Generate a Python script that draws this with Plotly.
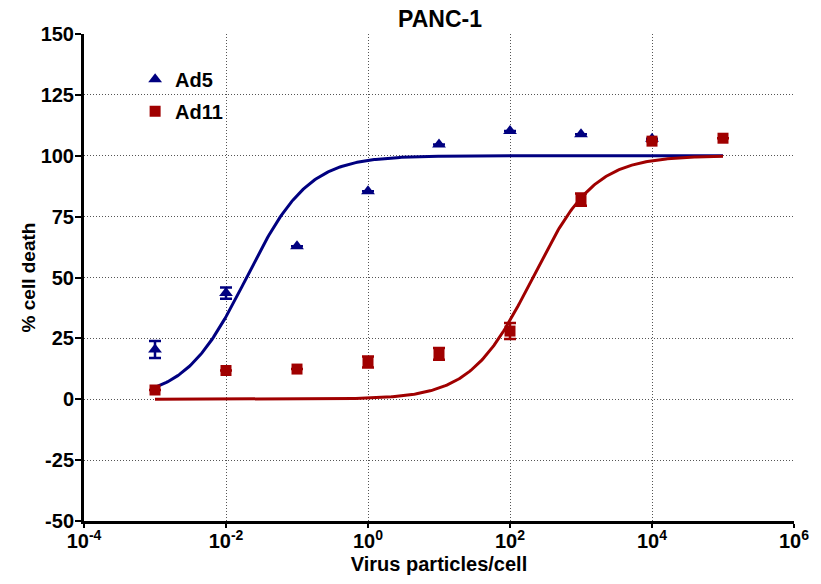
import numpy as np
import plotly.graph_objects as go

# Virus dose (particles/cell) and measured % cell death
ad5_dose = [1e-3, 1e-2, 1e-1, 1e0, 1e1, 1e2, 1e3, 1e4]
ad5_death = [20.4, 43.6, 62.8, 85.4, 104.6, 110.2, 108.8, 107.0]
ad5_err = [3.5, 2.3, 0.0, 0.0, 0.0, 0.0, 0.0, 0.0]

ad11_dose = [1e-3, 1e-2, 1e-1, 1e0, 1e1, 1e2, 1e3, 1e4, 1e5]
ad11_death = [3.8, 11.8, 12.4, 15.3, 18.6, 28.0, 82.0, 106.0, 107.2]
ad11_err = [0.0, 0.0, 0.0, 2.3, 2.4, 3.3, 2.5, 0.0, 0.0]

# Four-parameter logistic fit parameters (bottom, top, logEC50, Hill slope)
ad5_fit = dict(bottom=0.0, top=100.0, log_ec50=-1.71, hill=1.0)
ad11_fit = dict(bottom=0.0, top=100.0, log_ec50=2.32, hill=1.0)

x_tick_vals = [1e-4, 1e-2, 1e0, 1e2, 1e4, 1e6]
x_tick_text = ["10<sup>-4</sup>", "10<sup>-2</sup>", "10<sup>0</sup>",
               "10<sup>2</sup>", "10<sup>4</sup>", "10<sup>6</sup>"]
y_tick_vals = [-50, -25, 0, 25, 50, 75, 100, 125, 150]

BLUE = "#000080"
RED = "#A00000"


def logistic(logx, p):
    return p["bottom"] + (p["top"] - p["bottom"]) / (1 + 10 ** ((p["log_ec50"] - logx) * p["hill"]))


logx = np.linspace(-3, 5, 400)
xs = 10 ** logx

fig = go.Figure()

fig.add_trace(go.Scatter(x=xs, y=logistic(logx, ad5_fit), mode="lines",
                         line=dict(color=BLUE, width=3), showlegend=False,
                         hoverinfo="skip"))
fig.add_trace(go.Scatter(x=xs, y=logistic(logx, ad11_fit), mode="lines",
                         line=dict(color=RED, width=3), showlegend=False,
                         hoverinfo="skip"))

fig.add_trace(go.Scatter(
    x=ad5_dose, y=ad5_death, mode="markers", name="<b>Ad5</b>", legendgroup="ad5",
    marker=dict(symbol="triangle-up", size=12, color=BLUE),
    error_y=dict(type="data", array=ad5_err, color=BLUE, thickness=2.5, width=6),
))
fig.add_trace(go.Scatter(
    x=ad11_dose, y=ad11_death, mode="markers", name="<b>Ad11</b>", legendgroup="ad11",
    marker=dict(symbol="square", size=11, color=RED),
    error_y=dict(type="data", array=ad11_err, color=RED, thickness=2.5, width=6),
))

font_main = "Liberation Sans, Arial, sans-serif"
grid_dash = "1px,2px"

fig.update_layout(
    width=821, height=584,
    margin=dict(l=84, r=24, t=34, b=63),
    paper_bgcolor="white", plot_bgcolor="white",
    font=dict(family=font_main, size=20, color="black"),
    title=dict(text="<b>PANC-1</b>", x=0.536, xanchor="center", y=0.968,
               yanchor="middle", font=dict(size=23)),
    legend=dict(x=0.072, y=0.947, xanchor="left", yanchor="top",
                bgcolor="rgba(0,0,0,0)", font=dict(size=20),
                itemsizing="trace", tracegroupgap=3),
    showlegend=True,
)

fig.update_xaxes(
    type="log", range=[-4, 6],
    tickvals=x_tick_vals, ticktext=[f"<b>{t}</b>" for t in x_tick_text],
    tickfont=dict(size=20), ticklabelstandoff=-4,
    showline=True, linecolor="black", linewidth=3,
    ticks="outside", ticklen=4, tickwidth=2, tickcolor="black",
    showgrid=True, gridcolor="#555555", griddash=grid_dash, gridwidth=1,
    zeroline=False,
    title=dict(text="<b>Virus particles/cell</b>", font=dict(size=20), standoff=6),
)

fig.update_yaxes(
    range=[-50, 150],
    tickvals=y_tick_vals, ticktext=[f"<b>{v}</b>" for v in y_tick_vals],
    tickfont=dict(size=20), ticklabelstandoff=-3,
    showline=True, linecolor="black", linewidth=3,
    ticks="outside", ticklen=6, tickwidth=2, tickcolor="black",
    showgrid=True, gridcolor="#555555", griddash=grid_dash, gridwidth=1,
    zeroline=False,
    title=dict(text="<b>% cell death</b>", font=dict(size=19), standoff=0),
)

fig.write_html("out.html")
